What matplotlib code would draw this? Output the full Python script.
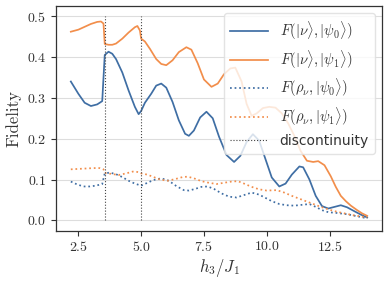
import matplotlib
matplotlib.use("Agg")
import matplotlib.pyplot as plt

# values
x_nu0 = [2.2, 2.5, 2.75, 3.0, 3.25, 3.45, 3.55, 3.7, 3.85, 4.0, 4.25, 4.5, 4.75, 4.9,
         5.0, 5.15, 5.4, 5.6, 5.8, 6.0, 6.25, 6.5, 6.75, 6.9, 7.1, 7.35, 7.6, 7.85,
         8.1, 8.4, 8.7, 8.95, 9.2, 9.45, 9.7, 9.95, 10.2, 10.5, 10.75, 11.0, 11.3,
         11.45, 11.7, 11.95, 12.2, 12.45, 12.7, 12.95, 13.2, 13.5, 13.75, 14.0]
f_nu0 = [0.340, 0.310, 0.288, 0.280, 0.284, 0.292, 0.405, 0.413, 0.408, 0.395, 0.362,
         0.318, 0.278, 0.260, 0.268, 0.288, 0.310, 0.330, 0.335, 0.325, 0.290, 0.245,
         0.212, 0.207, 0.220, 0.252, 0.266, 0.250, 0.205, 0.160, 0.143, 0.158, 0.192,
         0.211, 0.195, 0.150, 0.105, 0.083, 0.090, 0.112, 0.132, 0.130, 0.100, 0.060,
         0.035, 0.029, 0.033, 0.037, 0.032, 0.022, 0.014, 0.007]

x_nu1 = [2.2, 2.5, 2.75, 3.0, 3.25, 3.4, 3.5, 3.55, 3.7, 3.85, 4.0, 4.25, 4.5, 4.75,
         4.85, 4.95, 5.0, 5.15, 5.35, 5.6, 5.8, 6.0, 6.25, 6.5, 6.8, 7.0, 7.25, 7.5,
         7.8, 8.05, 8.3, 8.55, 8.75, 9.0, 9.2, 9.4, 9.6, 9.85, 10.1, 10.35, 10.6,
         10.85, 11.1, 11.35, 11.6, 11.85, 12.05, 12.3, 12.55, 12.75, 12.95, 13.15,
         13.35, 13.6, 13.8, 14.0]
f_nu1 = [0.462, 0.467, 0.474, 0.481, 0.486, 0.487, 0.482, 0.432, 0.430, 0.430, 0.433,
         0.445, 0.460, 0.473, 0.476, 0.465, 0.445, 0.438, 0.420, 0.395, 0.383, 0.380,
         0.392, 0.412, 0.424, 0.418, 0.385, 0.345, 0.327, 0.335, 0.358, 0.372, 0.374,
         0.340, 0.285, 0.256, 0.262, 0.275, 0.278, 0.276, 0.262, 0.238, 0.207, 0.170,
         0.146, 0.143, 0.145, 0.135, 0.108, 0.082, 0.060, 0.047, 0.036, 0.025, 0.017,
         0.011]

x_rho0 = [2.2, 2.45, 2.7, 2.95, 3.2, 3.45, 3.55, 3.75, 4.0, 4.25, 4.5, 4.75, 5.0, 5.25,
          5.5, 5.8, 6.1, 6.4, 6.7, 6.9, 7.15, 7.4, 7.65, 7.9, 8.2, 8.5, 8.8, 9.1, 9.4,
          9.7, 9.95, 10.2, 10.5, 10.8, 11.1, 11.4, 11.7, 11.95, 12.2, 12.45, 12.8,
          13.2, 13.6, 14.0]
f_rho0 = [0.095, 0.088, 0.083, 0.083, 0.085, 0.089, 0.115, 0.117, 0.113, 0.106, 0.097,
          0.090, 0.085, 0.092, 0.099, 0.103, 0.097, 0.084, 0.074, 0.073, 0.077, 0.082,
          0.083, 0.077, 0.066, 0.058, 0.056, 0.062, 0.068, 0.063, 0.055, 0.047, 0.040,
          0.037, 0.036, 0.038, 0.040, 0.033, 0.025, 0.020, 0.018, 0.015, 0.010, 0.005]

x_rho1 = [2.2, 2.5, 2.8, 3.1, 3.35, 3.5, 3.55, 3.8, 4.1, 4.4, 4.7, 4.9, 5.0, 5.25, 5.5,
          5.75, 6.05, 6.35, 6.65, 6.85, 7.1, 7.4, 7.7, 8.0, 8.3, 8.6, 8.85, 9.1, 9.4,
          9.7, 10.0, 10.4, 10.7, 11.0, 11.3, 11.6, 11.9, 12.2, 12.5, 12.8, 13.1, 13.4,
          13.7, 14.0]
f_rho1 = [0.125, 0.126, 0.127, 0.128, 0.128, 0.125, 0.116, 0.114, 0.111, 0.115, 0.120,
          0.118, 0.115, 0.112, 0.106, 0.100, 0.097, 0.101, 0.106, 0.107, 0.103, 0.096,
          0.092, 0.089, 0.092, 0.095, 0.096, 0.090, 0.082, 0.076, 0.073, 0.074, 0.068,
          0.060, 0.053, 0.046, 0.039, 0.032, 0.026, 0.021, 0.017, 0.013, 0.010, 0.007]

disc_x = [3.55, 5.0]
disc_range = [0.0, 0.5]

labels = [r"$F(|\nu\rangle, |\psi_0\rangle)$", r"$F(|\nu\rangle, |\psi_1\rangle)$",
          r"$F(\rho_\nu, |\psi_0\rangle)$", r"$F(\rho_\nu, |\psi_1\rangle)$",
          "discontinuity"]

plt.rcParams["font.family"] = "serif"
plt.rcParams["font.serif"] = ["cmr10"]
plt.rcParams["mathtext.fontset"] = "cm"
plt.rcParams["axes.formatter.use_mathtext"] = True
plt.rcParams["font.size"] = 10

blue = "#3f6ea4"
orange = "#f28e4b"

fig = plt.figure(figsize=(3.89, 2.85), dpi=100)
ax = fig.add_axes([0.144, 0.191, 0.838, 0.788])

ax.plot(x_nu0, f_nu0, color=blue, lw=1.25, label=labels[0])
ax.plot(x_nu1, f_nu1, color=orange, lw=1.25, label=labels[1])
ax.plot(x_rho0, f_rho0, color=blue, lw=1.25, ls=":", label=labels[2])
ax.plot(x_rho1, f_rho1, color=orange, lw=1.25, ls=":", label=labels[3])
ax.vlines(disc_x, disc_range[0], disc_range[1], colors="#444444", lw=0.8,
          linestyles=":", label=labels[4])

ax.grid(True, axis="y", color="#dddddd", lw=0.8)
ax.set_axisbelow(True)
for s in ax.spines.values():
    s.set_color("#333333")
    s.set_linewidth(0.9)
ax.tick_params(direction="out", length=3.5, width=0.8, color="#333333",
               labelsize=10, labelcolor="#333333")
ax.set_yticks([0.0, 0.1, 0.2, 0.3, 0.4, 0.5])
ax.set_xticks([2.5, 5.0, 7.5, 10.0, 12.5])

ax.set_xlabel(r"$h_3/J_1$", fontsize=12, color="#333333", labelpad=2)
ax.set_ylabel("Fidelity", fontsize=12, color="#333333", labelpad=4)

leg = ax.legend(loc="upper right", fontsize=10.5, handlelength=2.6,
                framealpha=0.8, edgecolor="#dddddd", labelspacing=0.4)
leg.get_texts()[-1].set_family("DejaVu Sans")
leg.get_texts()[-1].set_fontsize(10)
for t in leg.get_texts():
    t.set_color("#333333")

fig.savefig("out.png", dpi=100)
